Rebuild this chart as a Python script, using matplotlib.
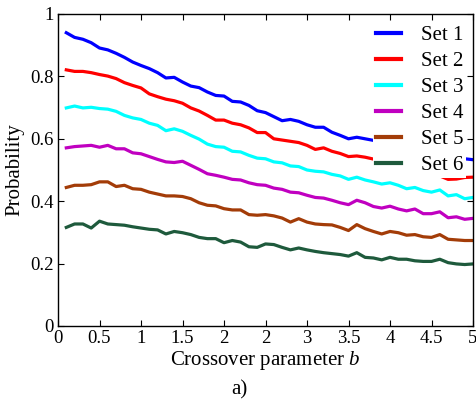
import matplotlib
matplotlib.use("Agg")
import matplotlib.pyplot as plt
import numpy as np

plt.rcParams['font.family'] = ['Liberation Serif', 'DejaVu Serif']
plt.rcParams['mathtext.fontset'] = 'custom'
plt.rcParams['mathtext.rm'] = 'Liberation Serif'
plt.rcParams['mathtext.it'] = 'Liberation Serif:italic'

# Crossover parameter values b = 0.1 ... 5.0
b = np.round(np.arange(1, 51) * 0.1, 1)

set1 = [0.940, 0.925, 0.919, 0.908, 0.891, 0.885, 0.874, 0.861, 0.846, 0.835,
        0.825, 0.812, 0.795, 0.797, 0.782, 0.769, 0.764, 0.750, 0.739, 0.737,
        0.720, 0.718, 0.707, 0.690, 0.684, 0.671, 0.658, 0.662, 0.656, 0.645,
        0.637, 0.637, 0.621, 0.611, 0.600, 0.605, 0.600, 0.595, 0.589, 0.584,
        0.576, 0.573, 0.565, 0.562, 0.555, 0.553, 0.546, 0.542, 0.536, 0.533]

set2 = [0.821, 0.816, 0.816, 0.812, 0.806, 0.801, 0.793, 0.780, 0.771, 0.763,
        0.744, 0.735, 0.727, 0.722, 0.714, 0.699, 0.689, 0.675, 0.660, 0.660,
        0.650, 0.645, 0.635, 0.620, 0.620, 0.600, 0.596, 0.592, 0.588, 0.579,
        0.566, 0.571, 0.560, 0.553, 0.543, 0.545, 0.541, 0.535, 0.531, 0.523,
        0.520, 0.511, 0.506, 0.497, 0.491, 0.481, 0.470, 0.471, 0.476, 0.477]

set3 = [0.699, 0.705, 0.699, 0.701, 0.697, 0.695, 0.688, 0.675, 0.667, 0.662,
        0.650, 0.643, 0.626, 0.632, 0.624, 0.611, 0.599, 0.583, 0.575, 0.573,
        0.560, 0.558, 0.547, 0.538, 0.536, 0.526, 0.523, 0.513, 0.511, 0.500,
        0.496, 0.494, 0.486, 0.481, 0.470, 0.477, 0.468, 0.462, 0.455, 0.459,
        0.451, 0.440, 0.444, 0.434, 0.429, 0.436, 0.417, 0.421, 0.408, 0.412]

set4 = [0.571, 0.575, 0.577, 0.579, 0.573, 0.579, 0.568, 0.568, 0.555, 0.552,
        0.543, 0.534, 0.526, 0.524, 0.528, 0.515, 0.502, 0.488, 0.483, 0.477,
        0.470, 0.468, 0.459, 0.453, 0.451, 0.442, 0.438, 0.429, 0.427, 0.419,
        0.412, 0.410, 0.403, 0.395, 0.389, 0.403, 0.395, 0.383, 0.378, 0.384,
        0.375, 0.369, 0.375, 0.360, 0.360, 0.366, 0.347, 0.350, 0.342, 0.345]

set5 = [0.444, 0.451, 0.451, 0.453, 0.462, 0.462, 0.447, 0.451, 0.440, 0.438,
        0.429, 0.423, 0.417, 0.417, 0.415, 0.408, 0.395, 0.387, 0.385, 0.376,
        0.372, 0.372, 0.357, 0.355, 0.357, 0.353, 0.346, 0.333, 0.344, 0.333,
        0.327, 0.325, 0.324, 0.316, 0.306, 0.325, 0.312, 0.303, 0.295, 0.303,
        0.299, 0.291, 0.293, 0.286, 0.284, 0.293, 0.278, 0.276, 0.274, 0.274]

set6 = [0.316, 0.327, 0.327, 0.314, 0.336, 0.327, 0.325, 0.323, 0.318, 0.314,
        0.310, 0.308, 0.295, 0.303, 0.299, 0.293, 0.284, 0.280, 0.280, 0.267,
        0.274, 0.269, 0.254, 0.252, 0.263, 0.261, 0.252, 0.244, 0.250, 0.244,
        0.239, 0.235, 0.232, 0.229, 0.224, 0.235, 0.220, 0.218, 0.212, 0.220,
        0.214, 0.214, 0.209, 0.207, 0.207, 0.214, 0.203, 0.199, 0.197, 0.199]

series = [set1, set2, set3, set4, set5, set6]
labels = ['Set 1', 'Set 2', 'Set 3', 'Set 4', 'Set 5', 'Set 6']
colors = ['#0000FF', '#FF0000', '#00FFFF', '#C000C0', '#A33C08', '#1E5A3C']

xticks = [0, 0.5, 1, 1.5, 2, 2.5, 3, 3.5, 4, 4.5, 5]
xticklabels = ['0', '0.5', '1', '1.5', '2', '2', '3', '3.5', '4', '4.5', '5']
yticks = [0, 0.2, 0.4, 0.6, 0.8, 1]
yticklabels = ['0', '0.2', '0.4', '0.6', '0.8', '1']

fig = plt.figure(figsize=(4.77, 4.0), dpi=100)
ax = fig.add_axes([58 / 477, 74 / 400, 415 / 477, 312 / 400])

for y, lab, c in zip(series, labels, colors):
    ax.plot(b, y, color=c, lw=2.3, label=lab, solid_joinstyle='round')

ax.set_xlim(0, 5)
ax.set_ylim(0, 1)
ax.set_xticks(xticks)
ax.set_xticklabels(xticklabels)
ax.set_yticks(yticks)
ax.set_yticklabels(yticklabels)
ax.tick_params(direction='in', top=True, right=True, length=4, width=0.8,
               labelsize=13.5, pad=3)
for s in ax.spines.values():
    s.set_linewidth(1.0)

ax.set_xlabel('Crossover parameter $b$', fontsize=15, labelpad=1)
ax.set_ylabel('Probability', fontsize=15, labelpad=4)

leg = ax.legend(loc='upper right', bbox_to_anchor=(0.982, 0.971), fontsize=15,
                frameon=True, fancybox=False, framealpha=1.0,
                handlelength=1.2, handletextpad=0.95, labelspacing=0.31,
                borderpad=0.12, borderaxespad=0)
leg.get_frame().set_edgecolor('none')
leg.get_frame().set_facecolor('white')
for line in leg.get_lines():
    line.set_linewidth(3)

fig.text(239 / 477, 10 / 400, 'a)', ha='center', va='center', fontsize=15)

fig.savefig('out.png', dpi=100)
